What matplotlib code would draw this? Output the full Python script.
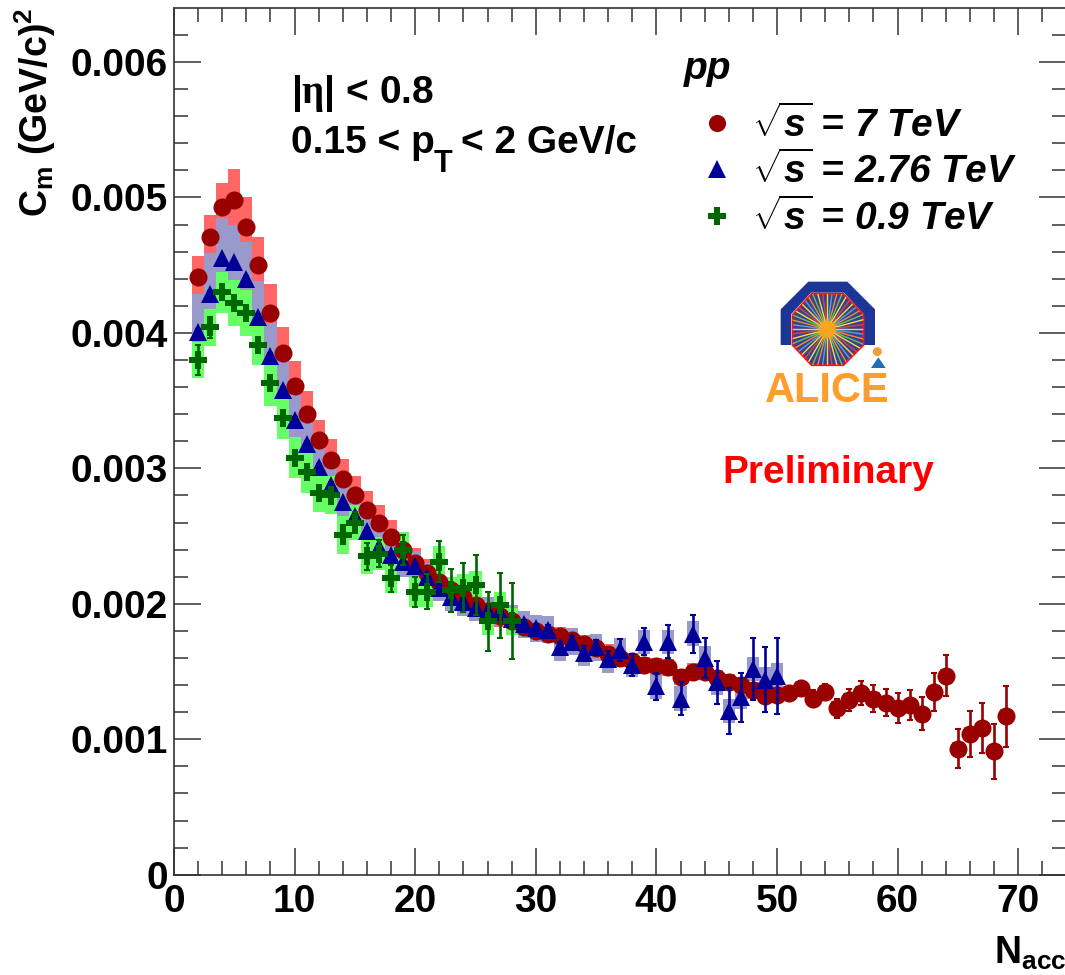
import numpy as np
import matplotlib
matplotlib.use("Agg")
import matplotlib.pyplot as plt
from matplotlib.transforms import Affine2D
from matplotlib.patches import Polygon, Circle
from matplotlib.lines import Line2D
from matplotlib.font_manager import FontProperties
from matplotlib.ticker import MultipleLocator

W, H = 1065, 975
plt.rcParams.update({
    "font.family": "Liberation Sans", "font.weight": "bold",
    "mathtext.fontset": "custom", "mathtext.rm": "Liberation Serif",
    "mathtext.bf": "Liberation Sans:bold", "mathtext.it": "Liberation Sans:italic:bold",
    "mathtext.bfit": "Liberation Sans:italic:bold", "mathtext.fallback": "cm",
})

x_7 = list(range(2, 70))
val_7 = [.00441,.00471,.00493,.00498,.00478,.00450,.00415,.00385,.00361,.00340,.00321,.00306,.00292,.00280,.00269,.00260,.00249,.00240,.00230,.00223,.00216,.00210,.00205,.00199,.00195,.00191,.00187,.00183,.00180,.00178,.00176,.00173,.00170,.00167,.00163,.00160,.00158,.00155,.00154,.00153,.00146,.00150,.00150,.00145,.00142,.00140,.00136,.00132,.00133,.00134,.00138,.00130,.00135,.00123,.00129,.00134,.00130,.00127,.00123,.00125,.00119,.00135,.00147,.00093,.00104,.00108,.00091,.00117]
stat_7 = [.00002]*29 + [.00003]*19 + [.00004,.00005,.00005,.00006,.00006,.00007,.00008,.00009,.0001,.0001,.00011,.00011,.00012,.00014,.00015,.000145,.00017,.000185,.0002,.000225]
sys_7 = [.00016,.00016,.00018,.00023,.00022,.00021,.00021,.00019,.00018,.00017,.00015,.00016,.00015,.00014,.00014,.00013,.00013,.00012,.00011,.0001,.00009,.00009,.00008,.00008,.00008,.00008,.00008,.00008,.00008,.00007,.00007,.00007,.00007,.00007,.00007,.00007,.00006,.00006,.00006,.00006,.00006,.00006,.00006,.00006,.00006,.00006,.00006,.00005] + [.00005]*20

x_276 = list(range(2, 51))
val_276 = [.00401,.00429,.00455,.00452,.00440,.00412,.00383,.00358,.00336,.00318,.00301,.00288,.00275,.00265,.00254,.00242,.00236,.00231,.00228,.00220,.00212,.00205,.00201,.00197,.00195,.00194,.00189,.00185,.00182,.00181,.00168,.00172,.00164,.00168,.00159,.00166,.00155,.00172,.00139,.00172,.00130,.00178,.00160,.00142,.00121,.00131,.00152,.00144,.00147]
stat_276 = [.00002]*20 + [.00003]*10 + [.00004,.00004,.00005,.00005,.00006,.00008,.00008,.0001,.0001,.00012,.00012,.00014,.00015,.00016,.00017,.00018,.00023,.00024,.00028]
sys_276 = [.00028,.0003,.0003,.00028,.00027,.00026,.00024,.00021,.00018,.00017,.00016,.00015,.00014,.00014,.00013,.00012,.00012,.00011,.00011] + [.0001]*16 + [.00009]*14

x_09 = list(range(2, 29))
val_09 = [.00380,.00404,.00430,.00422,.00415,.00391,.00363,.00337,.00308,.00297,.00282,.00280,.00251,.00260,.00235,.00237,.00219,.00240,.00209,.00209,.00231,.00210,.00212,.00214,.00187,.00199,.00187]
stat_09 = [.00011,.00008,.00006,.00005,.00005,.00005,.00005,.00005,.00005,.00005,.00006,.00006,.00007,.00008,.0001,.0001,.0001,.00011,.00011,.00013,.00015,.00016,.00018,.00022,.00022,.00024,.00028]
sys_09 = [.00013,.00014,.00015,.00017,.00017,.00015,.00017,.00015,.00015,.00015,.00014,.00014,.00014,.00013,.00013,.00012,.00011,.00013,.00011,.00011,.00012,.0001,.0001,.0001,.0001,.0001,.0001]

x_tick_labels = ["0", "10", "20", "30", "40", "50", "60", "70"]
y_tick_labels = ["0", "0.001", "0.002", "0.003", "0.004", "0.005", "0.006"]
legend_labels = [r"$\sqrt{\mathbfit{s}}$ = 7 TeV", r"$\sqrt{\mathbfit{s}}$ = 2.76 TeV", r"$\sqrt{\mathbfit{s}}$ = 0.9 TeV"]

fig = plt.figure(figsize=(W/100, H/100), dpi=100)
L, R, T, B = 174, 1066, 8, 874.7
ax = fig.add_axes([L/W, 1-B/H, (R-L)/W, (B-T)/H])
ax.set_xlim(0, (R-L)/12.06)
ax.set_ylim(0, (B-T)/135.45/1000)

series = [
    (x_7, val_7, stat_7, sys_7, "#990000", "#FF6666", "o", 13.0),
    (x_276, val_276, stat_276, sys_276, "#000099", "#9999CC", "^", 13.0),
    (x_09, val_09, stat_09, sys_09, "#006600", "#66FF66", "P", 13.5),
]
handles = []
for i, (xs, ys, st, sy, c, bc, m, ms) in enumerate(series):
    ys_a, sy_a = np.array(ys), np.array(sy)
    ax.bar(xs, 2*sy_a, bottom=ys_a-sy_a, width=1.0, color=bc, linewidth=0, zorder=1+i)
    _, caps, _ = ax.errorbar(xs, ys, yerr=st, fmt=m, color=c, ms=ms, mew=0, elinewidth=1.9,
                             capsize=2.3, zorder=4+i)
    for cp in caps:
        cp.set_markeredgewidth(1.5)
    handles.append(Line2D([], [], marker=m, color=c, ls="none", ms=ms*0.95, mew=0))

ax.set_xticks(range(0, 80, 10), x_tick_labels)
ax.set_yticks([i/1000 for i in range(7)], y_tick_labels)
ax.xaxis.set_minor_locator(MultipleLocator(2))
ax.yaxis.set_minor_locator(MultipleLocator(0.0002))
ax.tick_params(which="both", direction="in", top=True, right=True, width=1.1, color="#333333")
ax.tick_params(which="major", length=19.4, labelsize=28)
ax.tick_params(which="minor", length=10)
ax.tick_params(axis="x", which="major", pad=7)
ax.tick_params(axis="y", which="major", pad=4.5)
for s in ax.spines.values():
    s.set_linewidth(1.2); s.set_color("#333333")

pix = Affine2D().scale(1, -1).translate(0, H)
def txt(x, y, s, **k):
    k.setdefault("fontsize", 28)
    k.setdefault("va", "baseline")
    return fig.text(x, y, s, transform=pix, **k)

txt(48, 217, r"C$_{\mathbf{m}}$ (GeV/c)$^{\mathbf{2}}$", rotation=90, rotation_mode="anchor", ha="left", fontsize=27)
txt(291, 103, r"|$\mathrm{η}$| < 0.8")
txt(291, 153, "0.15 < p")
txt(434, 172, "T", fontsize=22)
txt(461, 153, "< 2 GeV/c")
txt(684, 79, "pp", style="italic")
txt(722, 483, "Preliminary", color="#FF0000")
txt(1066, 964, r"N$_{\mathbf{acc}}$", ha="right", fontsize=27)

leg = fig.legend(handles, legend_labels, loc="upper left", bbox_to_anchor=(698/W, 1-105/H),
                 frameon=False, prop=FontProperties(family="Liberation Sans", weight="bold", style="italic", size=28),
                 labelspacing=0.18, handlelength=1.0, handletextpad=0.4, borderpad=0, borderaxespad=0)

# ALICE logo, drawn in reference pixel coordinates
def lp(pts):
    return [(740+a/3, 270+b/3) for a, b in pts]
arch = lp([(122,225),(122,118),(205,35),(322,35),(405,118),(405,225),(372,225),(372,133),(312,68),(213,68),(153,133),(153,225)])
fig.add_artist(Polygon(arch, closed=True, fc="#1C3596", ec="none", transform=pix))
octa = lp([(215,72),(310,72),(370,135),(370,225),(310,285),(215,285),(158,225),(158,135)])
oct_patch = Polygon(octa, closed=True, fc="#3A3F95", ec="#E8141C", lw=1.6, transform=pix, zorder=3)
fig.add_artist(oct_patch)
cx, cy = 740+262/3, 270+178/3
ray_cols = ["#F6D92B", "#4FA3D8", "#F28C28", "#6CC24A", "#E8E04A", "#D6483C"]
for k in range(48):
    a = 2*np.pi*k/48
    rr = 45
    c = ray_cols[k % len(ray_cols)]
    for r0, r1, col, lw in ((0, rr*0.2, "#F6A623", 1.2), (rr*0.2, rr, c, 1.0)):
        ln = Line2D([cx+r0*np.cos(a), cx+r1*np.cos(a)], [cy+r0*np.sin(a), cy+r1*np.sin(a)],
                    color=col, lw=lw, transform=pix, zorder=4)
        fig.add_artist(ln)
        ln.set_clip_path(oct_patch)
fig.add_artist(Polygon(lp([(415,262),(393,294),(437,294)]), closed=True, fc="#1F6FB5", ec="none", transform=pix, zorder=5))
fig.add_artist(Circle((740+412/3, 270+245/3), 4.5, fc="#F0A030", ec="none", transform=pix, zorder=5))
txt(765, 402, "ALICE", color="#FF9E2C", fontsize=30, zorder=6)

fig.savefig("out.png", dpi=100)
